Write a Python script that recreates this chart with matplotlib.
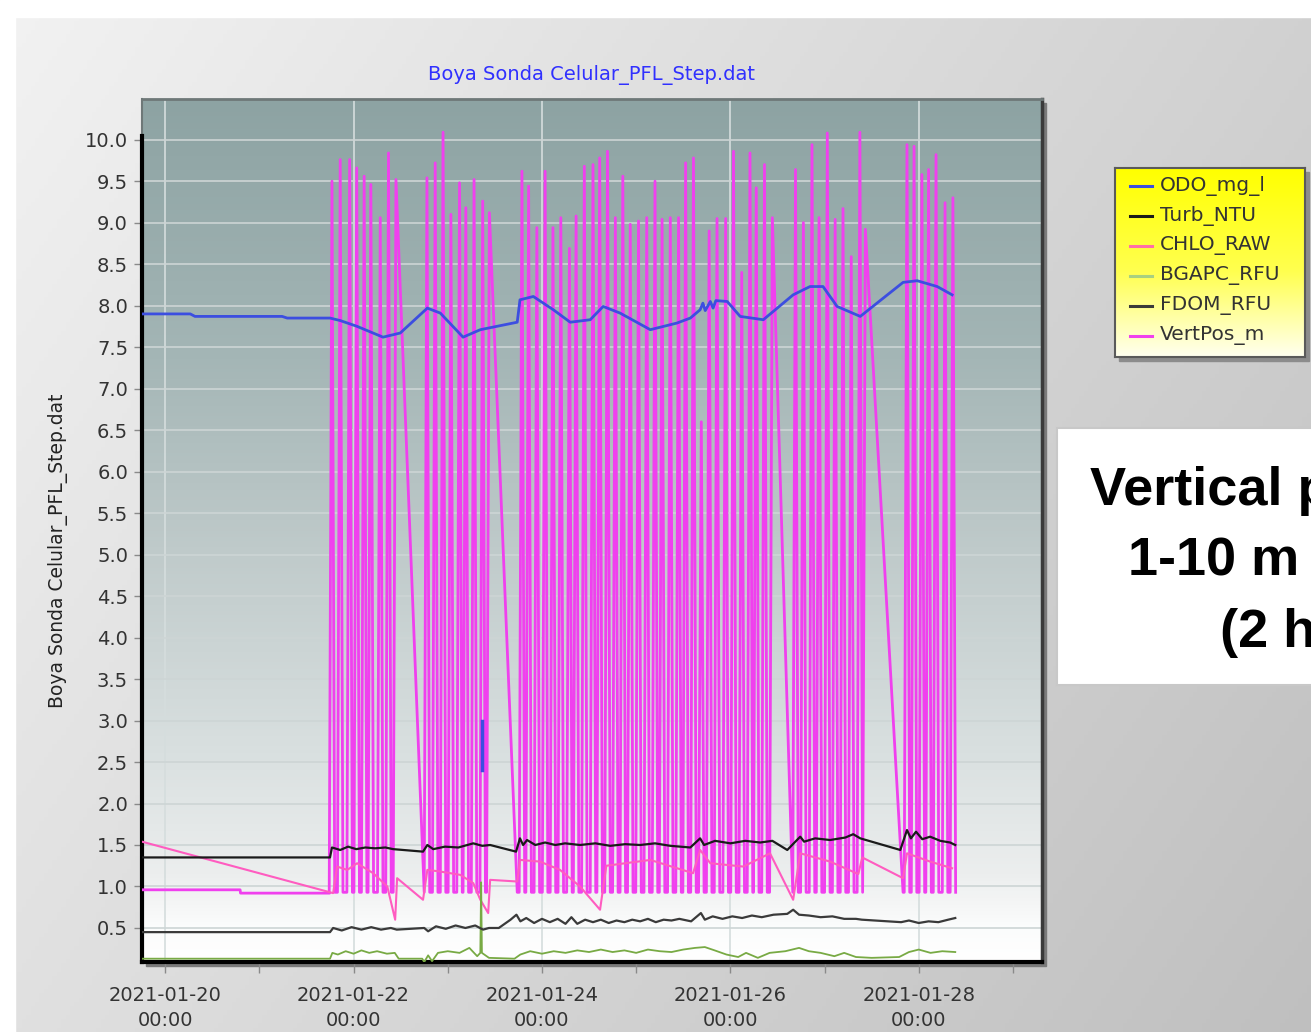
import matplotlib
matplotlib.use('Agg')
import matplotlib.pyplot as plt
import matplotlib.dates as mdates
import matplotlib.transforms as mtransforms
from matplotlib import font_manager
from matplotlib.colors import LinearSegmentedColormap
from matplotlib.patches import Rectangle
from matplotlib.ticker import FormatStrFormatter
import numpy as np
import pandas as pd

# %% data - times are hours after 2021-01-20 00:00
t0 = pd.Timestamp('2021-01-20 00:00')
t_start, t_end = -5.9, 223.4

# VertPos_m: one peak per profile (~2 h cycle), bottom of each cast at vert_base
prof_hours = [42.5, 44.6, 47.0, 48.8, 50.7, 52.4, 54.8, 56.9, 58.8,
              66.7, 68.8, 70.8, 72.8, 75.0, 76.6, 78.7, 80.9, 82.6,
              90.9, 92.6, 94.7, 96.8, 98.8, 100.8, 103.0, 104.7, 106.8, 109.0,
              110.7, 112.7, 114.7, 116.6, 118.5, 120.6, 122.7, 124.8, 126.6, 128.7,
              130.8, 132.6, 134.6, 136.6, 138.6, 140.6, 142.8, 144.8, 146.9, 149.0,
              150.6, 152.7, 154.7,
              160.6, 162.6, 164.8, 166.6, 168.7, 170.7, 172.7, 174.8, 177.0, 178.4,
              189.0, 190.8, 192.8, 194.5, 196.4, 198.7, 200.7]
prof_peaks = [9.50, 9.76, 9.76, 9.66, 9.56, 9.46, 9.06, 9.84, 9.52,
              9.54, 9.72, 10.09, 9.10, 9.48, 9.18, 9.52, 9.26, 9.12,
              9.62, 9.44, 8.94, 9.62, 8.94, 9.06, 8.69, 9.08, 9.68, 9.70,
              9.78, 9.86, 9.06, 9.56, 8.98, 9.02, 9.06, 9.50, 9.04, 9.06,
              9.06, 9.72, 9.78, 6.60, 8.90, 9.05, 9.05, 9.86, 8.40, 9.84,
              9.42, 9.70, 9.06,
              9.64, 9.00, 9.94, 9.06, 10.08, 9.04, 9.17, 8.59, 10.09, 8.92,
              9.94, 9.92, 9.58, 9.64, 9.82, 9.24, 9.30]
# profiles followed by a gap in the record: hour where it restarts at the bottom
gap_end = {58.8: 66.0, 82.6: 89.7, 154.7: 159.9, 178.4: 188.0}
vert_base = 0.93
vert_pre_hours = [-5.9, 19.1, 19.2, 41.9]
vert_pre = [0.96, 0.96, 0.92, 0.92]

chlo_hours = [-5.9, 42.8, 43.8, 46.4, 48.9, 53.0, 56.6, 58.6, 59.1, 65.7, 66.8, 70.1,
              75.2, 78.5, 80.3, 82.3, 82.8, 89.7, 90.4, 95.5, 100.6, 105.7, 110.8,
              112.4, 123.6, 134.5, 136.3, 138.9, 147.3, 154.1, 160.0, 161.8, 169.4,
              176.6, 177.6, 188.0, 189.0, 194.9, 200.5]
chlo = [1.54, 0.92, 1.24, 1.20, 1.28, 1.16, 1.00, 0.60, 1.10, 0.84, 1.20, 1.18,
        1.14, 1.04, 0.84, 0.68, 1.08, 1.06, 1.32, 1.30, 1.20, 1.00, 0.72,
        1.25, 1.32, 1.16, 1.44, 1.28, 1.24, 1.40, 0.84, 1.40, 1.30,
        1.15, 1.35, 1.10, 1.40, 1.30, 1.22]

turb_hours = [-5.9, 42.0, 42.5, 44.6, 46.6, 48.7, 51.0, 53.5, 56.1, 58.1, 65.7, 66.8,
              68.3, 71.3, 74.7, 78.5, 80.8, 82.8, 89.4, 90.4, 91.2, 92.2, 94.3, 96.8,
              99.4, 101.9, 105.7, 109.6, 113.4, 117.2, 121.0, 124.8, 128.7, 133.8,
              136.3, 137.3, 140.1, 144.0, 147.8, 151.6, 154.7, 158.5, 161.8, 162.8,
              165.6, 169.4, 173.3, 175.3, 177.1, 187.3, 189.0, 190.0, 191.3, 192.9,
              194.9, 197.5, 200.0, 201.3]
turb = [1.35, 1.35, 1.47, 1.44, 1.48, 1.45, 1.47, 1.46, 1.47, 1.45, 1.42, 1.50,
        1.45, 1.48, 1.47, 1.52, 1.49, 1.50, 1.42, 1.58, 1.50, 1.56, 1.50, 1.53,
        1.50, 1.52, 1.50, 1.52, 1.49, 1.51, 1.50, 1.52, 1.49, 1.47,
        1.58, 1.50, 1.55, 1.52, 1.55, 1.53, 1.55, 1.44, 1.60, 1.54,
        1.58, 1.56, 1.59, 1.63, 1.58, 1.44, 1.68, 1.58, 1.66, 1.57,
        1.60, 1.55, 1.53, 1.50]

fdom_hours = [-5.9, 42.0, 42.8, 45.0, 47.5, 50.0, 52.5, 55.0, 57.5, 59.0, 66.0, 67.0,
              69.0, 71.5, 74.0, 76.5, 79.0, 81.0, 82.5, 85.0, 88.0, 89.5, 90.5, 92.0,
              94.0, 96.0, 98.0, 100.0, 102.0, 103.5, 105.0, 107.0, 109.0, 111.0,
              113.0, 115.0, 117.0, 119.0, 121.0, 123.0, 125.0, 127.0, 129.0, 131.0,
              134.0, 136.5, 137.5, 139.5, 142.0, 144.5, 147.0, 149.5, 152.0, 155.0,
              158.5, 160.0, 161.5, 164.0, 167.0, 170.0, 173.0, 176.0, 177.5, 187.5,
              189.5, 192.0, 194.5, 197.0, 199.5, 201.3]
fdom = [0.45, 0.45, 0.50, 0.47, 0.51, 0.48, 0.51, 0.48, 0.50, 0.48, 0.50, 0.46,
        0.52, 0.49, 0.53, 0.50, 0.53, 0.48, 0.50, 0.50, 0.60, 0.66, 0.58, 0.62,
        0.56, 0.61, 0.57, 0.61, 0.55, 0.63, 0.55, 0.60, 0.57, 0.60,
        0.56, 0.59, 0.57, 0.60, 0.58, 0.61, 0.57, 0.60, 0.59, 0.61,
        0.58, 0.68, 0.60, 0.64, 0.61, 0.64, 0.62, 0.65, 0.63, 0.66,
        0.67, 0.72, 0.66, 0.65, 0.63, 0.64, 0.61, 0.61, 0.60, 0.57,
        0.59, 0.56, 0.58, 0.57, 0.60, 0.62]

bgapc_hours = [-5.9, 42.0, 42.6, 44.0, 46.0, 48.0, 50.0, 52.0, 54.0, 56.5, 58.5, 59.5,
               65.5, 66.0, 67.0, 68.0, 69.5, 72.0, 75.0, 77.5, 79.5, 80.3, 80.5, 80.7,
               82.5, 89.0, 90.5, 93.0, 96.0, 99.0, 102.0, 105.0, 108.0, 111.0, 114.0,
               117.0, 120.0, 123.0, 126.0, 129.0, 132.0, 135.0, 137.5, 140.0, 143.0,
               146.0, 148.0, 151.0, 154.0, 158.0, 161.5, 164.0, 167.0, 170.5, 173.0,
               176.0, 180.0, 187.0, 189.5, 192.0, 195.0, 198.0, 201.3]
bgapc = [0.13, 0.13, 0.20, 0.18, 0.22, 0.19, 0.23, 0.20, 0.22, 0.19, 0.20, 0.13,
         0.13, 0.09, 0.17, 0.10, 0.20, 0.22, 0.20, 0.26, 0.16, 0.20, 1.05, 0.20,
         0.14, 0.13, 0.18, 0.22, 0.19, 0.22, 0.20, 0.23, 0.21, 0.24, 0.21,
         0.23, 0.20, 0.24, 0.22, 0.21, 0.24, 0.26, 0.27, 0.23, 0.18,
         0.15, 0.20, 0.14, 0.20, 0.22, 0.26, 0.22, 0.20, 0.16, 0.20,
         0.15, 0.14, 0.15, 0.21, 0.24, 0.20, 0.22, 0.21]

odo_hours = [-5.9, 6.4, 7.6, 29.8, 31.1, 42.0, 44.6, 48.9, 55.5, 59.9, 66.8, 70.1,
             75.9, 80.3, 89.7, 90.4, 93.8, 98.9, 103.2, 108.3, 111.6, 115.9, 123.6,
             130.4, 133.8, 136.3, 137.0, 137.6, 138.9, 139.6, 140.3, 143.2, 146.5,
             152.4, 160.0, 164.3, 167.6, 171.2, 177.1, 188.0, 191.6, 196.7, 200.5]
odo = [7.90, 7.90, 7.87, 7.87, 7.85, 7.85, 7.82, 7.75, 7.62, 7.67, 7.97, 7.91,
       7.62, 7.71, 7.80, 8.07, 8.11, 7.95, 7.80, 7.83, 7.99, 7.91, 7.71,
       7.79, 7.85, 7.95, 8.03, 7.94, 8.05, 7.97, 8.06, 8.05, 7.87,
       7.83, 8.13, 8.23, 8.23, 7.99, 7.87, 8.28, 8.30, 8.23, 8.13]
odo_spike_hours = [80.6, 80.6]
odo_spike = [2.4, 3.0]

labels = ['ODO_mg_l', 'Turb_NTU', 'CHLO_RAW', 'BGAPC_RFU', 'FDOM_RFU', 'VertPos_m']
colors = ['#3c4ee0', '#1a1a1a', '#ff5cc0', '#78aa44', '#3a3a3a', '#f040ee']
legend_colors = ['#3c4ee0', '#1a1a1a', '#ff6ea8', '#a8d080', '#3a3a3a', '#f040ee']
title = 'Boya Sonda Celular_PFL_Step.dat'
box_lines = ['Vertical profiles', '1-10 m depth', '(2 hrs)']

assert len(prof_hours) == len(prof_peaks)


def to_time(hours):
    return t0 + pd.to_timedelta(np.asarray(hours, dtype=float), unit='h')


# build the VertPos trace from the profile peaks (up-cast, then down-cast)
w = 0.7
vt, vv = list(vert_pre_hours), list(vert_pre)
for h, p in zip(prof_hours, prof_peaks):
    vt += [h - w, h]
    vv += [vert_base, p]
    vt.append(gap_end.get(h, h + w))
    vv.append(vert_base)

# %% figure
W, H = 1311, 1032
fig = plt.figure(figsize=(W / 100, H / 100), dpi=100)

# slide background
bg = fig.add_axes([0, 0, 1, 1], zorder=-10)
xx, yy = np.meshgrid(np.linspace(0, 1, 300), np.linspace(0, 1, 240))
g = 0.95 - 0.13 * xx - 0.07 * yy
bg.imshow(np.dstack([g, g, g]), extent=(0, 1, 0, 1), aspect='auto', origin='upper')
bg.add_patch(Rectangle((0, 1 - 17 / H), 1, 17 / H, color='white'))
bg.add_patch(Rectangle((0, 0), 15 / W, 1, color='white'))
# drop shadows
bg.add_patch(Rectangle((146 / W, 1 - 966 / H), 900 / W, 863 / H, color='#7a7a7a'))
bg.add_patch(Rectangle((1119 / W, 1 - 361 / H), 190 / W, 189 / H, color='#8c8c8c'))
# text box
bg.add_patch(Rectangle((1057 / W, 1 - 685 / H), 0.3, 257 / H, facecolor='white',
                       edgecolor='#c8c8c8', lw=1.5))
bg.set_xlim(0, 1)
bg.set_ylim(0, 1)
bg.axis('off')

pos = [142 / W, 1 - 962 / H, 900 / W, 863 / H]
grad = np.linspace(0, 1, 256).reshape(-1, 1)
axbg = fig.add_axes(pos, zorder=0)
cmap_bg = LinearSegmentedColormap.from_list('plotbg', [
    (0, '#ffffff'), (0.04, '#fbfcfc'), (0.1, '#eceeee'), (0.25, '#d8dfdf'),
    (0.48, '#bfcaca'), (0.71, '#a3b5b5'), (1.0, '#8da3a3')])
axbg.imshow(grad, cmap=cmap_bg, extent=(0, 1, 0, 1), aspect='auto', origin='lower')
axbg.axis('off')

ax = fig.add_axes(pos, zorder=1)
ax.set_facecolor('none')

ax.plot(to_time(vt), vv, color=colors[5], lw=2.0, zorder=3)
ax.plot(to_time(chlo_hours), chlo, color=colors[2], lw=1.5, zorder=4)
ax.plot(to_time(bgapc_hours), bgapc, color=colors[3], lw=1.3, zorder=5)
ax.plot(to_time(fdom_hours), fdom, color=colors[4], lw=1.6, zorder=5)
ax.plot(to_time(turb_hours), turb, color=colors[1], lw=1.6, zorder=6)
ax.plot(to_time(odo_hours), odo, color=colors[0], lw=2, zorder=7)
ax.plot(to_time(odo_spike_hours), odo_spike, color=colors[0], lw=2.5, zorder=7)

ax.set_yticks(np.arange(0.5, 10.01, 0.5))
ax.yaxis.set_major_formatter(FormatStrFormatter('%.1f'))
ax.set_xticks(pd.date_range('2021-01-20', '2021-01-28', freq='2D'))
ax.set_xticks(pd.date_range('2021-01-19', '2021-01-29', freq='D'), minor=True)
ax.xaxis.set_major_formatter(mdates.DateFormatter('%Y-%m-%d\n%H:%M'))
# limits after the ticks, set_xticks widens the view otherwise
ax.set_xlim(to_time([t_start])[0], to_time([t_end])[0])
ax.set_ylim(0.09, 10.49)

ax.grid(axis='y', color='#cdd5d5', lw=1.2, zorder=1)
ax.grid(axis='x', which='major', color='#d5dddd', lw=1.2, zorder=1)

ax.tick_params(axis='y', length=6, width=1, color='#8a8a8a', pad=4,
               labelsize=14, labelcolor='#333333')
ax.tick_params(axis='x', which='both', length=8, width=1, color='#8a8a8a', pad=9,
               labelsize=14, labelcolor='#333333')
for lab in ax.get_xticklabels():
    lab.set_linespacing(1.45)

ax.spines['top'].set_color('#6e7878')
ax.spines['top'].set_linewidth(2)
ax.spines['right'].set_color('#3a3a3a')
ax.spines['right'].set_linewidth(2.5)
ax.spines['bottom'].set_color('black')
ax.spines['bottom'].set_linewidth(3)
ax.spines['left'].set_color('black')
ax.spines['left'].set_linewidth(3)
ax.spines['left'].set_bounds(0.09, 10.05)
trans = mtransforms.blended_transform_factory(ax.transAxes, ax.transData)
ax.plot([0, 0], [10.05, 10.49], color='#6e7878', lw=1.5, transform=trans, clip_on=False)

ax.set_title(title, color='#3030ff', fontsize=14, pad=14)
ax.set_ylabel(title, fontsize=13.5, color='#222222')
ax.yaxis.set_label_coords(-0.082, 0.477)

# legend panel
lax = fig.add_axes([1115 / W, 1 - 357 / H, 190 / W, 189 / H], zorder=3)
cmap_leg = LinearSegmentedColormap.from_list('leg', [(0, '#fffff0'), (0.45, '#ffff50'),
                                                     (1, '#ffff00')])
lax.imshow(grad, cmap=cmap_leg, extent=(0, 1, 0, 1), aspect='auto', origin='lower')
lax.set_xlim(0, 1)
lax.set_ylim(0, 1)
lax.set_xticks([])
lax.set_yticks([])
for s in lax.spines.values():
    s.set_color('#5a5a5a')
    s.set_linewidth(1.5)
for i, (lab, c) in enumerate(zip(labels, legend_colors)):
    yy_ = 0.905 - i * 0.1587
    lax.plot([0.08, 0.195], [yy_, yy_], color=c, lw=2.2)
    lax.text(0.235, yy_, lab, fontsize=14.5, color='#333333', va='center', ha='left')

# text box on the slide (cut by the right edge, as in the slide capture)
names = {f.name for f in font_manager.fontManager.ttflist}
if 'Liberation Sans Narrow' in names:
    box_font, box_size = 'Liberation Sans Narrow', 45
else:
    box_font, box_size = 'Liberation Sans', 39
for txt, x, y in zip(box_lines, [1090, 1128, 1220], [505, 575, 647]):
    fig.text(x / W, 1 - y / H, txt, family=box_font, fontsize=box_size,
             fontweight='bold', color='black', ha='left', va='baseline')

fig.savefig('out.png', dpi=100)
